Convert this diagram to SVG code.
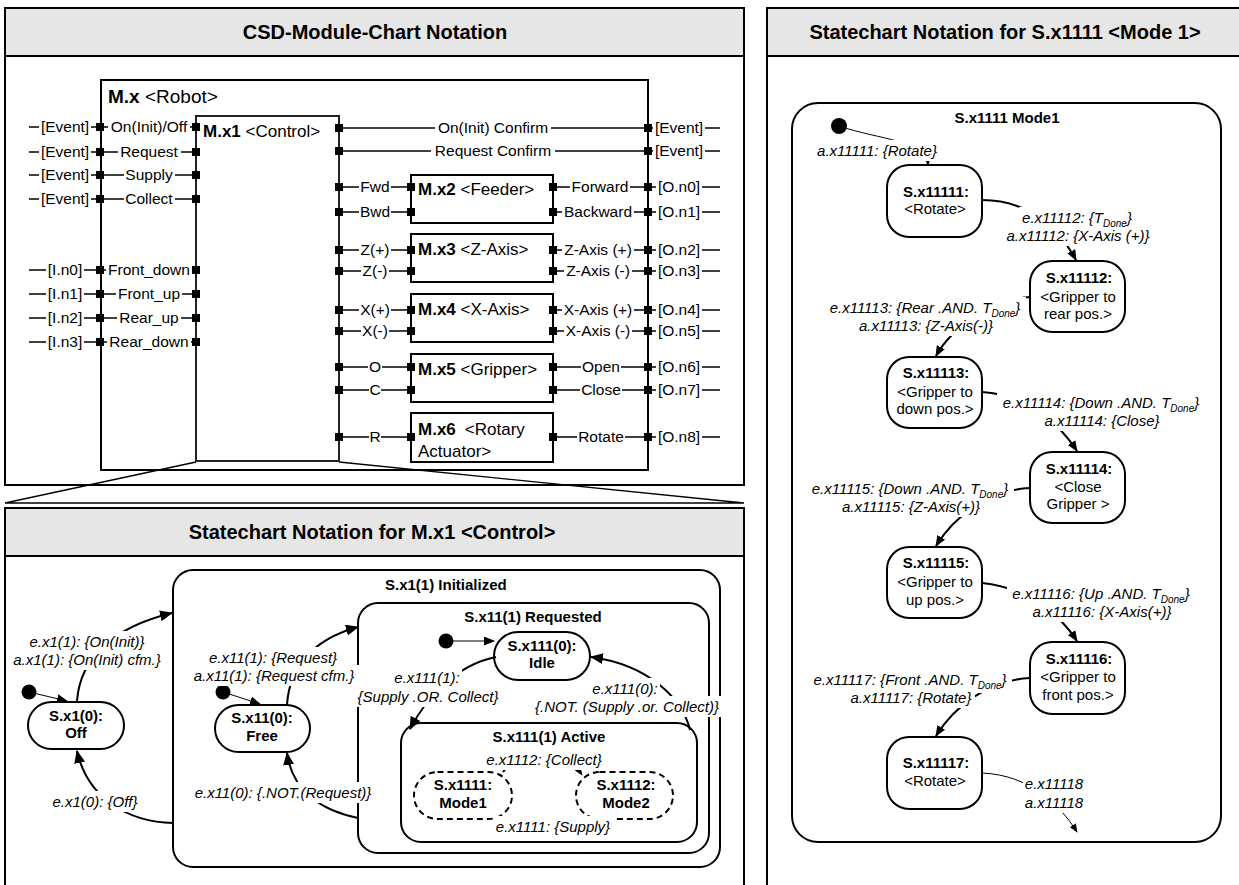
<svg xmlns="http://www.w3.org/2000/svg" xmlns:xlink="http://www.w3.org/1999/xlink" width="1239" height="885" viewBox="0 0 1239 885">
<defs>
<style>
text{font-family:"Liberation Sans",Arial,Helvetica,sans-serif;fill:#000}
.frame{fill:#fff;stroke:#000;stroke-width:2}
.hdr{fill:#e6e6e6;stroke:#000;stroke-width:2}
.ttl{font-size:20px;font-weight:bold;text-anchor:middle}
.blk{fill:none;stroke:#000;stroke-width:2}
.port{fill:#000}
.wire{stroke:#000;stroke-width:1.3;fill:none}
.pl{font-size:15.5px;text-anchor:middle}
.mt{font-size:17px}
.b{font-weight:bold}
.st{fill:#fff;stroke:#000;stroke-width:2}
.ct{fill:none;stroke:#000;stroke-width:2}
.dash{stroke-dasharray:6 4}
.sn{font-size:15px;font-weight:bold;text-anchor:middle}
.sr{font-size:15px;text-anchor:middle}
.ev{font-size:15px;font-style:italic;text-anchor:middle}
.tr{fill:none;stroke:#000;stroke-width:2}
.thin{fill:none;stroke:#000;stroke-width:1}
.dot{fill:#000}
.sub{font-size:10px}
</style>
<!-- plain white box the size of a label; drawn under the label so wires stop at the text -->
<filter id="box" x="-0.025" y="-0.07" width="1.05" height="1.14">
 <feFlood flood-color="#fff"/>
</filter>
<marker id="ahL" markerWidth="13" markerHeight="11" refX="12" refY="5.5" orient="auto" markerUnits="userSpaceOnUse"><path d="M0,0 L13,5.5 L0,11 z"/></marker>
<marker id="ahM" markerWidth="11" markerHeight="9" refX="10" refY="4.5" orient="auto" markerUnits="userSpaceOnUse"><path d="M0,0 L11,4.5 L0,9 z"/></marker>
<marker id="ahS" markerWidth="9" markerHeight="7" refX="8" refY="3.5" orient="auto" markerUnits="userSpaceOnUse"><path d="M0,0 L9,3.5 L0,7 z"/></marker>
</defs>

<rect width="1239" height="885" fill="#fff"/>

<!-- panel frames -->
<g id="panel-module-chart">
 <rect class="frame" x="5" y="8" width="739" height="477"/>
 <rect class="hdr" x="5" y="8" width="739" height="48"/>
 <text class="ttl" x="375" y="39">CSD-Module-Chart Notation</text>
</g>
<g id="panel-mode1">
 <rect class="frame" x="767" y="8" width="480" height="890"/>
 <rect class="hdr" x="767" y="8" width="480" height="48"/>
 <text class="ttl" x="1005" y="39">Statechart Notation for S.x1111 &lt;Mode 1&gt;</text>
</g>
<g id="panel-control">
 <rect class="frame" x="5" y="508" width="739" height="390"/>
 <rect class="hdr" x="5" y="508" width="739" height="48"/>
 <text class="ttl" x="372" y="539">Statechart Notation for M.x1 &lt;Control&gt;</text>
</g>

<!-- zoom funnel from M.x1 to its statechart -->
<path id="funnel" class="wire" d="M196,462 L5,503 H744 L339,462"/>

<!-- ===== module chart ===== -->
<g id="connectors-module">
 <path class="wire" d="M29,127H196 M29,152H196 M29,175H196 M29,199H196 M29,270H196 M29,294H196 M29,318H196 M29,342H196"/>
 <path class="wire" d="M339,128H720 M339,151H720"/>
 <path class="wire" d="M339,187H411 M553,187H720 M339,212H411 M553,212H720 M339,250H411 M553,250H720 M339,271H411 M553,271H720 M339,310H411 M553,310H720 M339,331H411 M553,331H720 M339,367H411 M553,367H720 M339,390H411 M553,390H720 M339,437H411 M553,437H720"/>
</g>

<g id="M.x">
 <rect class="blk" x="101" y="80" width="547" height="390"/>
 <text x="108" y="103" style="font-size:19px"><tspan class="b">M.x</tspan> &lt;Robot&gt;</text>
</g>
<g id="M.x1">
 <rect class="blk" x="196" y="116" width="143" height="345" style="stroke:#222"/>
 <text class="mt" x="203" y="137"><tspan class="b">M.x1</tspan> &lt;Control&gt;</text>
</g>
<g id="M.x2">
 <rect class="blk" x="411" y="175" width="142" height="48"/>
 <text class="mt" x="418" y="195"><tspan class="b">M.x2</tspan> &lt;Feeder&gt;</text>
</g>
<g id="M.x3">
 <rect class="blk" x="411" y="234" width="142" height="48"/>
 <text class="mt" x="418" y="255"><tspan class="b">M.x3</tspan> &lt;Z-Axis&gt;</text>
</g>
<g id="M.x4">
 <rect class="blk" x="411" y="294" width="142" height="48"/>
 <text class="mt" x="418" y="315"><tspan class="b">M.x4</tspan> &lt;X-Axis&gt;</text>
</g>
<g id="M.x5">
 <rect class="blk" x="411" y="354" width="142" height="48"/>
 <text class="mt" x="418" y="375"><tspan class="b">M.x5</tspan> &lt;Gripper&gt;</text>
</g>
<g id="M.x6">
 <rect class="blk" x="411" y="413" width="142" height="49"/>
 <text class="mt" x="418" y="435"><tspan class="b">M.x6</tspan><tspan dx="9">&lt;Rotary</tspan></text>
 <text class="mt" x="418" y="457">Actuator&gt;</text>
</g>

<g id="ports">
 <g class="port">
  <rect x="96" y="123" width="8" height="8"/><rect x="192" y="123" width="8" height="8"/>
  <rect x="96" y="148" width="8" height="8"/><rect x="192" y="148" width="8" height="8"/>
  <rect x="96" y="171" width="8" height="8"/><rect x="192" y="171" width="8" height="8"/>
  <rect x="96" y="195" width="8" height="8"/><rect x="192" y="195" width="8" height="8"/>
  <rect x="96" y="266" width="8" height="8"/><rect x="192" y="266" width="8" height="8"/>
  <rect x="96" y="290" width="8" height="8"/><rect x="192" y="290" width="8" height="8"/>
  <rect x="96" y="314" width="8" height="8"/><rect x="192" y="314" width="8" height="8"/>
  <rect x="96" y="338" width="8" height="8"/><rect x="192" y="338" width="8" height="8"/>
  <rect x="335" y="124" width="8" height="8"/><rect x="644" y="124" width="8" height="8"/>
  <rect x="335" y="147" width="8" height="8"/><rect x="644" y="147" width="8" height="8"/>
  <rect x="335" y="183" width="8" height="8"/><rect x="407" y="183" width="8" height="8"/><rect x="549" y="183" width="8" height="8"/><rect x="644" y="183" width="8" height="8"/>
  <rect x="335" y="208" width="8" height="8"/><rect x="407" y="208" width="8" height="8"/><rect x="549" y="208" width="8" height="8"/><rect x="644" y="208" width="8" height="8"/>
  <rect x="335" y="246" width="8" height="8"/><rect x="407" y="246" width="8" height="8"/><rect x="549" y="246" width="8" height="8"/><rect x="644" y="246" width="8" height="8"/>
  <rect x="335" y="267" width="8" height="8"/><rect x="407" y="267" width="8" height="8"/><rect x="549" y="267" width="8" height="8"/><rect x="644" y="267" width="8" height="8"/>
  <rect x="335" y="306" width="8" height="8"/><rect x="407" y="306" width="8" height="8"/><rect x="549" y="306" width="8" height="8"/><rect x="644" y="306" width="8" height="8"/>
  <rect x="335" y="327" width="8" height="8"/><rect x="407" y="327" width="8" height="8"/><rect x="549" y="327" width="8" height="8"/><rect x="644" y="327" width="8" height="8"/>
  <rect x="335" y="363" width="8" height="8"/><rect x="407" y="363" width="8" height="8"/><rect x="549" y="363" width="8" height="8"/><rect x="644" y="363" width="8" height="8"/>
  <rect x="335" y="386" width="8" height="8"/><rect x="407" y="386" width="8" height="8"/><rect x="549" y="386" width="8" height="8"/><rect x="644" y="386" width="8" height="8"/>
  <rect x="335" y="433" width="8" height="8"/><rect x="407" y="433" width="8" height="8"/><rect x="549" y="433" width="8" height="8"/><rect x="644" y="433" width="8" height="8"/>
 </g>
</g>

<!-- white boxes under the port labels -->
<g id="port-label-backing" filter="none">
 <use xlink:href="#p01" filter="url(#box)"/><use xlink:href="#p02" filter="url(#box)"/><use xlink:href="#p03" filter="url(#box)"/><use xlink:href="#p04" filter="url(#box)"/>
 <use xlink:href="#p05" filter="url(#box)"/><use xlink:href="#p06" filter="url(#box)"/><use xlink:href="#p07" filter="url(#box)"/><use xlink:href="#p08" filter="url(#box)"/>
 <use xlink:href="#p09" filter="url(#box)"/><use xlink:href="#p10" filter="url(#box)"/><use xlink:href="#p11" filter="url(#box)"/><use xlink:href="#p12" filter="url(#box)"/>
 <use xlink:href="#p13" filter="url(#box)"/><use xlink:href="#p14" filter="url(#box)"/><use xlink:href="#p15" filter="url(#box)"/><use xlink:href="#p16" filter="url(#box)"/>
 <use xlink:href="#p17" filter="url(#box)"/><use xlink:href="#p18" filter="url(#box)"/><use xlink:href="#p19" filter="url(#box)"/><use xlink:href="#p20" filter="url(#box)"/>
 <use xlink:href="#p21" filter="url(#box)"/><use xlink:href="#p22" filter="url(#box)"/><use xlink:href="#p23" filter="url(#box)"/><use xlink:href="#p24" filter="url(#box)"/>
 <use xlink:href="#p25" filter="url(#box)"/><use xlink:href="#p26" filter="url(#box)"/><use xlink:href="#p27" filter="url(#box)"/><use xlink:href="#p28" filter="url(#box)"/>
 <use xlink:href="#p29" filter="url(#box)"/><use xlink:href="#p30" filter="url(#box)"/><use xlink:href="#p31" filter="url(#box)"/><use xlink:href="#p32" filter="url(#box)"/>
 <use xlink:href="#p33" filter="url(#box)"/><use xlink:href="#p34" filter="url(#box)"/><use xlink:href="#p35" filter="url(#box)"/><use xlink:href="#p36" filter="url(#box)"/>
 <use xlink:href="#p37" filter="url(#box)"/><use xlink:href="#p38" filter="url(#box)"/><use xlink:href="#p39" filter="url(#box)"/><use xlink:href="#p40" filter="url(#box)"/>
 <use xlink:href="#p41" filter="url(#box)"/><use xlink:href="#p42" filter="url(#box)"/><use xlink:href="#p43" filter="url(#box)"/><use xlink:href="#p44" filter="url(#box)"/>
 <use xlink:href="#p45" filter="url(#box)"/><use xlink:href="#p46" filter="url(#box)"/><use xlink:href="#p47" filter="url(#box)"/>
</g>

<g id="port-labels">
 <text id="p01" class="pl" x="65" y="132">[Event]</text><text id="p02" class="pl" x="149" y="132">On(Init)/Off</text>
 <text id="p03" class="pl" x="65" y="157">[Event]</text><text id="p04" class="pl" x="149" y="157">Request</text>
 <text id="p05" class="pl" x="65" y="180">[Event]</text><text id="p06" class="pl" x="149" y="180">Supply</text>
 <text id="p07" class="pl" x="65" y="204">[Event]</text><text id="p08" class="pl" x="149" y="204">Collect</text>
 <text id="p09" class="pl" x="65" y="275">[I.n0]</text><text id="p10" class="pl" x="149" y="275">Front_down</text>
 <text id="p11" class="pl" x="65" y="299">[I.n1]</text><text id="p12" class="pl" x="149" y="299">Front_up</text>
 <text id="p13" class="pl" x="65" y="323">[I.n2]</text><text id="p14" class="pl" x="149" y="323">Rear_up</text>
 <text id="p15" class="pl" x="65" y="347">[I.n3]</text><text id="p16" class="pl" x="149" y="347">Rear_down</text>

 <text id="p17" class="pl" x="493" y="133">On(Init) Confirm</text><text id="p18" class="pl" x="679" y="133">[Event]</text>
 <text id="p19" class="pl" x="493" y="156">Request Confirm</text><text id="p20" class="pl" x="679" y="156">[Event]</text>

 <text id="p21" class="pl" x="375" y="192">Fwd</text><text id="p22" class="pl" x="600" y="192">Forward</text><text id="p23" class="pl" x="679" y="192">[O.n0]</text>
 <text id="p24" class="pl" x="375" y="217">Bwd</text><text id="p25" class="pl" x="598" y="217">Backward</text><text id="p26" class="pl" x="679" y="217">[O.n1]</text>
 <text id="p27" class="pl" x="375" y="255">Z(+)</text><text id="p28" class="pl" x="598" y="255">Z-Axis (+)</text><text id="p29" class="pl" x="679" y="255">[O.n2]</text>
 <text id="p30" class="pl" x="375" y="276">Z(-)</text><text id="p31" class="pl" x="598" y="276">Z-Axis (-)</text><text id="p32" class="pl" x="679" y="276">[O.n3]</text>
 <text id="p33" class="pl" x="375" y="315">X(+)</text><text id="p34" class="pl" x="598" y="315">X-Axis (+)</text><text id="p35" class="pl" x="679" y="315">[O.n4]</text>
 <text id="p36" class="pl" x="375" y="336">X(-)</text><text id="p37" class="pl" x="598" y="336">X-Axis (-)</text><text id="p38" class="pl" x="679" y="336">[O.n5]</text>
 <text id="p39" class="pl" x="375" y="372">O</text><text id="p40" class="pl" x="601" y="372">Open</text><text id="p41" class="pl" x="679" y="372">[O.n6]</text>
 <text id="p42" class="pl" x="375" y="395">C</text><text id="p43" class="pl" x="601" y="395">Close</text><text id="p44" class="pl" x="679" y="395">[O.n7]</text>
 <text id="p45" class="pl" x="375" y="442">R</text><text id="p46" class="pl" x="601" y="442">Rotate</text><text id="p47" class="pl" x="679" y="442">[O.n8]</text>
</g>

<!-- ===== statechart of M.x1 <Control> ===== -->
<g id="S.x1(1)">
 <rect class="ct" x="173" y="570" width="547" height="297" rx="20"/>
 <text x="385" y="590" style="font-size:15px;font-weight:bold">S.x1(1) Initialized</text>
</g>
<g id="S.x11(1)">
 <rect class="ct" x="358" y="603" width="351" height="250" rx="20"/>
 <text class="sn" x="533" y="622">S.x11(1) Requested</text>
</g>
<g id="S.x111(1)">
 <rect class="ct" x="401" y="723" width="296" height="119" rx="20"/>
 <text class="sn" x="549" y="742">S.x111(1) Active</text>
</g>
<g id="S.x1(0)">
 <rect class="st" x="28" y="702" width="96" height="47" rx="23.5"/>
 <text class="sn" x="76" y="721">S.x1(0):</text>
 <text class="sn" x="76" y="738">Off</text>
</g>
<g id="S.x11(0)">
 <rect class="st" x="215" y="705" width="95" height="47" rx="23.5"/>
 <text class="sn" x="262" y="723">S.x11(0):</text>
 <text class="sn" x="262" y="741">Free</text>
</g>
<g id="S.x111(0)">
 <rect class="st" x="494" y="632" width="96" height="48" rx="24"/>
 <text class="sn" x="542" y="651">S.x111(0):</text>
 <text class="sn" x="542" y="668">Idle</text>
</g>
<g id="S.x1111">
 <rect class="st dash" x="414" y="772" width="98" height="47" rx="23.5"/>
 <text class="sn" x="463" y="790">S.x1111:</text>
 <text class="sn" x="463" y="808">Mode1</text>
</g>
<g id="S.x1112">
 <rect class="st dash" x="576" y="772" width="97" height="47" rx="23.5"/>
 <text class="sn" x="626" y="790">S.x1112:</text>
 <text class="sn" x="626" y="808">Mode2</text>
</g>

<g id="connectors-control">
 <circle class="dot" cx="29" cy="692" r="7.5"/>
 <path class="thin" d="M29,692 L67,701" marker-end="url(#ahM)"/>
 <circle class="dot" cx="223" cy="692" r="7.5"/>
 <path class="thin" d="M223,692 L260,704" marker-end="url(#ahM)"/>
 <circle class="dot" cx="446" cy="641" r="7.5"/>
 <path class="thin" d="M446,641 L494,641" marker-end="url(#ahM)"/>

 <path class="tr" d="M77,701 C80,660 110,628 172,613" marker-end="url(#ahL)"/>
 <path class="tr" d="M173,823 C130,822 88,800 77,751" marker-end="url(#ahL)"/>
 <path class="tr" d="M287,705 C289,670 310,640 358,627" marker-end="url(#ahL)"/>
 <path class="tr" d="M358,818 C320,810 292,790 287,753" marker-end="url(#ahL)"/>
 <path class="tr" d="M496,657 C455,665 425,700 410,729" marker-end="url(#ahL)"/>
 <path class="tr" d="M690,730 C683,700 650,665 591,657" marker-end="url(#ahL)"/>
 <path class="tr dash" d="M503,772 C520,750 565,750 582,775" marker-end="url(#ahS)"/>
 <path class="tr dash" d="M583,818 C565,840 525,840 507,817" marker-end="url(#ahS)"/>
</g>

<g id="control-label-backing">
 <use xlink:href="#c01" filter="url(#box)"/><use xlink:href="#c02" filter="url(#box)"/><use xlink:href="#c03" filter="url(#box)"/>
 <use xlink:href="#c04" filter="url(#box)"/><use xlink:href="#c05" filter="url(#box)"/><use xlink:href="#c06" filter="url(#box)"/>
 <use xlink:href="#c07" filter="url(#box)"/><use xlink:href="#c08" filter="url(#box)"/><use xlink:href="#c09" filter="url(#box)"/>
 <use xlink:href="#c10" filter="url(#box)"/><use xlink:href="#c11" filter="url(#box)"/><use xlink:href="#c12" filter="url(#box)"/>
</g>

<g id="labels-control">
 <text id="c01" class="ev" x="87" y="647">e.x1(1): {On(Init)}</text>
 <text id="c02" class="ev" x="87" y="665">a.x1(1): {On(Init) cfm.}</text>
 <text id="c03" class="ev" x="95" y="807">e.x1(0): {Off}</text>
 <text id="c04" class="ev" x="273" y="663">e.x11(1): {Request}</text>
 <text id="c05" class="ev" x="274" y="681">a.x11(1): {Request cfm.}</text>
 <text id="c06" class="ev" x="283" y="798">e.x11(0): {.NOT.(Request)}</text>
 <text id="c07" class="ev" x="427" y="683">e.x111(1):</text>
 <text id="c08" class="ev" x="428" y="702">{Supply .OR. Collect}</text>
 <text id="c09" class="ev" x="625" y="694">e.x111(0):</text>
 <text id="c10" class="ev" x="627" y="712">{.NOT. (Supply .or. Collect)}</text>
 <text id="c11" class="ev" x="544" y="765">e.x1112: {Collect}</text>
 <text id="c12" class="ev" x="553" y="832">e.x1111: {Supply}</text>
</g>

<!-- ===== statechart of S.x1111 <Mode 1> ===== -->
<g id="S.x1111-Mode1">
 <rect class="ct" x="792" y="103" width="429" height="739" rx="26"/>
 <text class="sn" x="1007" y="123">S.x1111 Mode1</text>
</g>
<g id="S.x11111">
 <rect class="st" x="887" y="165" width="95" height="72" rx="22"/>
 <text class="sn" x="936" y="197">S.x11111:</text>
 <text class="sr" x="935" y="214">&lt;Rotate&gt;</text>
</g>
<g id="S.x11112">
 <rect class="st" x="1030" y="261" width="95" height="71" rx="22"/>
 <text class="sn" x="1079" y="283">S.x11112:</text>
 <text class="sr" x="1078" y="302">&lt;Gripper to</text>
 <text class="sr" x="1078" y="319">rear pos.&gt;</text>
</g>
<g id="S.x11113">
 <rect class="st" x="887" y="357" width="95" height="71" rx="22"/>
 <text class="sn" x="936" y="378">S.x11113:</text>
 <text class="sr" x="935" y="397">&lt;Gripper to</text>
 <text class="sr" x="935" y="414">down pos.&gt;</text>
</g>
<g id="S.x11114">
 <rect class="st" x="1030" y="452" width="95" height="71" rx="22"/>
 <text class="sn" x="1079" y="474">S.x11114:</text>
 <text class="sr" x="1078" y="492">&lt;Close</text>
 <text class="sr" x="1078" y="509">Gripper &gt;</text>
</g>
<g id="S.x11115">
 <rect class="st" x="887" y="547" width="95" height="71" rx="22"/>
 <text class="sn" x="936" y="568">S.x11115:</text>
 <text class="sr" x="935" y="587">&lt;Gripper to</text>
 <text class="sr" x="935" y="605">up pos.&gt;</text>
</g>
<g id="S.x11116">
 <rect class="st" x="1030" y="642" width="95" height="72" rx="22"/>
 <text class="sn" x="1079" y="664">S.x11116:</text>
 <text class="sr" x="1078" y="682">&lt;Gripper to</text>
 <text class="sr" x="1078" y="700">front pos.&gt;</text>
</g>
<g id="S.x11117">
 <rect class="st" x="887" y="737" width="95" height="72" rx="22"/>
 <text class="sn" x="936" y="768">S.x11117:</text>
 <text class="sr" x="935" y="786">&lt;Rotate&gt;</text>
</g>

<g id="connectors-mode1">
 <circle class="dot" cx="839" cy="126" r="8"/>
 <path class="thin" d="M839,126 C880,140 926,140 928,165" marker-end="url(#ahS)"/>
 <path class="tr" d="M982,200 C1030,200 1060,230 1076,260" marker-end="url(#ahM)"/>
 <path class="tr" d="M1030,297 C990,300 950,330 936,356" marker-end="url(#ahM)"/>
 <path class="tr" d="M982,392 C1030,395 1060,425 1077,451" marker-end="url(#ahM)"/>
 <path class="tr" d="M1030,488 C990,490 955,515 936,546" marker-end="url(#ahM)"/>
 <path class="tr" d="M982,583 C1030,588 1060,615 1077,641" marker-end="url(#ahM)"/>
 <path class="tr" d="M1030,678 C990,680 955,705 936,736" marker-end="url(#ahM)"/>
 <path class="thin" d="M982,773 C1030,775 1060,805 1077,832" marker-end="url(#ahS)"/>
</g>

<g id="mode1-label-backing">
 <use xlink:href="#m01" filter="url(#box)"/><use xlink:href="#m02" filter="url(#box)"/><use xlink:href="#m03" filter="url(#box)"/>
 <use xlink:href="#m04" filter="url(#box)"/><use xlink:href="#m05" filter="url(#box)"/><use xlink:href="#m06" filter="url(#box)"/>
 <use xlink:href="#m07" filter="url(#box)"/><use xlink:href="#m08" filter="url(#box)"/><use xlink:href="#m09" filter="url(#box)"/>
 <use xlink:href="#m10" filter="url(#box)"/><use xlink:href="#m11" filter="url(#box)"/><use xlink:href="#m12" filter="url(#box)"/>
 <use xlink:href="#m13" filter="url(#box)"/><use xlink:href="#m14" filter="url(#box)"/><use xlink:href="#m15" filter="url(#box)"/>
</g>

<g id="labels-mode1">
 <text id="m01" class="ev" x="877" y="156">a.x11111: {Rotate}</text>
 <text id="m02" class="ev" x="1077" y="223">e.x11112: {T<tspan class="sub" dy="4">Done</tspan><tspan dy="-4">}</tspan></text>
 <text id="m03" class="ev" x="1078" y="241">a.x11112: {X-Axis (+)}</text>
 <text id="m04" class="ev" x="925" y="313">e.x11113: {Rear .AND. T<tspan class="sub" dy="4">Done</tspan><tspan dy="-4">}</tspan></text>
 <text id="m05" class="ev" x="926" y="331">a.x11113: {Z-Axis(-)}</text>
 <text id="m06" class="ev" x="1101" y="408">e.x11114: {Down .AND. T<tspan class="sub" dy="4">Done</tspan><tspan dy="-4">}</tspan></text>
 <text id="m07" class="ev" x="1102" y="426">a.x11114: {Close}</text>
 <text id="m08" class="ev" x="910" y="494">e.x11115: {Down .AND. T<tspan class="sub" dy="4">Done</tspan><tspan dy="-4">}</tspan></text>
 <text id="m09" class="ev" x="911" y="512">a.x11115: {Z-Axis(+)}</text>
 <text id="m10" class="ev" x="1101" y="599">e.x11116: {Up .AND. T<tspan class="sub" dy="4">Done</tspan><tspan dy="-4">}</tspan></text>
 <text id="m11" class="ev" x="1102" y="617">a.x11116: {X-Axis(+)}</text>
 <text id="m12" class="ev" x="910" y="685">e.x11117: {Front .AND. T<tspan class="sub" dy="4">Done</tspan><tspan dy="-4">}</tspan></text>
 <text id="m13" class="ev" x="911" y="703">a.x11117: {Rotate}</text>
 <text id="m14" class="ev" x="1054" y="789">e.x11118</text>
 <text id="m15" class="ev" x="1054" y="808">a.x11118</text>
</g>
</svg>
